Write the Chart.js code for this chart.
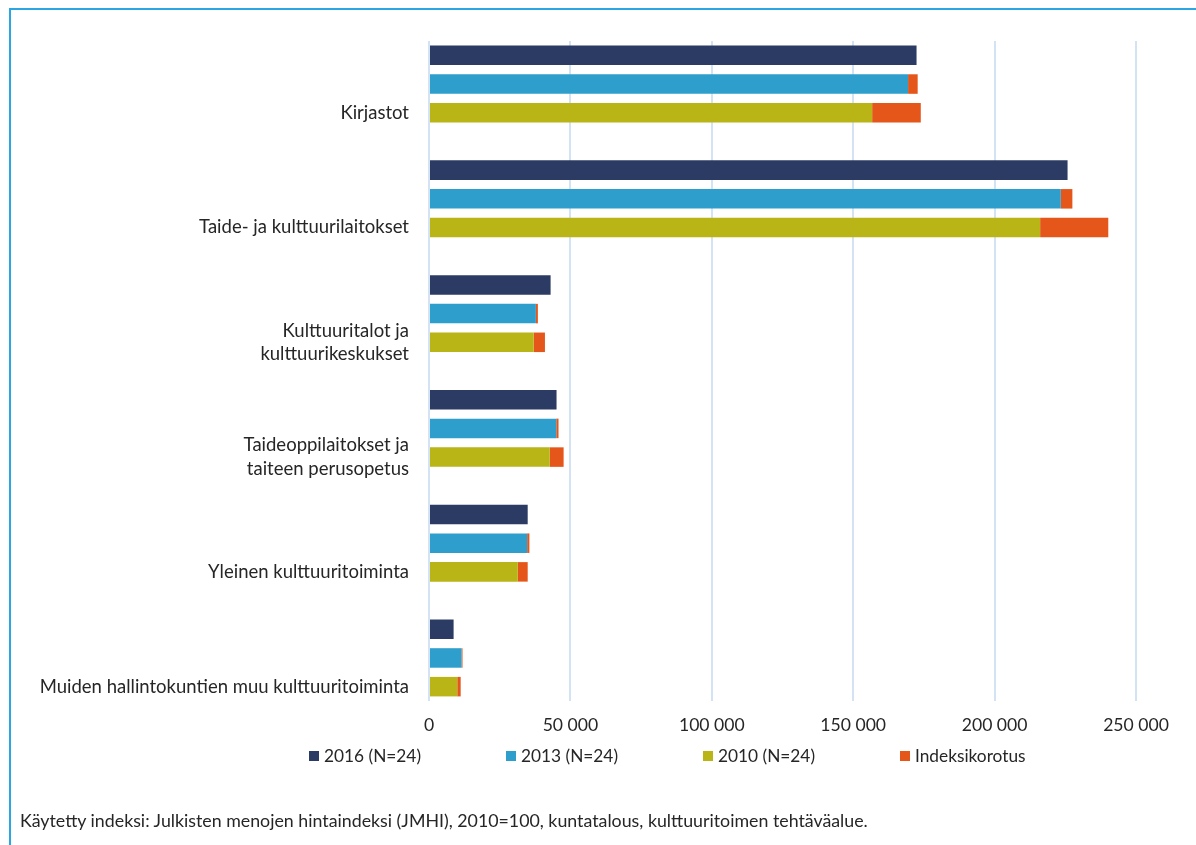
<!DOCTYPE html>
<html lang="fi">
<head>
<meta charset="utf-8">
<title>Kulttuuritoimen menot</title>
<script src="https://cdn.jsdelivr.net/npm/chart.js"></script>
<style>
  html, body { margin: 0; padding: 0; background: #ffffff; }
  #wrap { position: relative; width: 1196px; height: 845px; overflow: hidden; }
  #frame {
    position: absolute; left: 9px; top: 8px; width: 1200px; height: 900px;
    border-top: 2px solid #2aa6e2; border-left: 2px solid #2aa6e2;
  }
  #chart { position: absolute; left: 0; top: 0; }
  #note {
    position: absolute; left: 20px; top: 809px;
    font-family: Lato, "Open Sans", sans-serif; font-size: 17.8px; color: #262626;
  }
</style>
</head>
<body>
<div id="wrap">
  <div id="frame"></div>
  <canvas id="chart" width="1196" height="845"></canvas>
  <div id="note">Käytetty indeksi: Julkisten menojen hintaindeksi (JMHI), 2010=100, kuntatalous, kulttuuritoimen tehtäväalue.</div>
</div>
<script>
// Categories (top to bottom) and values, euros
const categories = [
    'Kirjastot',
    'Taide- ja kulttuurilaitokset',
    ['Kulttuuritalot ja', 'kulttuurikeskukset'],
    ['Taideoppilaitokset ja', 'taiteen perusopetus'],
    'Yleinen kulttuuritoiminta',
    'Muiden hallintokuntien muu kulttuuritoiminta'
];
const values2016 = [172400, 225800, 43000, 45100, 34900, 8700];
const values2013 = [169400, 223400, 37800, 45000, 34700, 11500];
const values2010 = [156700, 216100, 37000, 42700, 31400, 10000];
const index2013 = [3400, 4100, 700, 800, 800, 350];
const index2010 = [17200, 24100, 4000, 4900, 3500, 1200];
const seriesNames = ['2016 (N=24)', '2013 (N=24)', '2010 (N=24)', 'Indeksikorotus'];
const xTicks = [0, 50000, 100000, 150000, 200000, 250000];

const colors = ['#2c3b63', '#2e9fcd', '#b9b516', '#e5561b'];
const fontFamily = 'Lato, "Open Sans", sans-serif';

// Each category gets three rows (2016, 2013, 2010) and a blank spacer row
const rowLabels = [], row2016 = [], row2013 = [], row2010 = [], rowIndex = [];
categories.forEach((cat, i) => {
    const rows = [
        ['', values2016[i], null, null, null],
        ['', null, values2013[i], null, index2013[i]],
        [cat, null, null, values2010[i], index2010[i]]
    ];
    if (i < categories.length - 1) rows.push(['', null, null, null, null]);
    rows.forEach(r => {
        rowLabels.push(r[0]);
        row2016.push(r[1]);
        row2013.push(r[2]);
        row2010.push(r[3]);
        rowIndex.push(r[4]);
    });
});

const fmt = v => String(v).replace(/\B(?=(\d{3})+(?!\d))/g, ' ');

// Legend drawn by hand so the items sit where the original puts them
const legendPlugin = {
    id: 'bottomLegend',
    afterDraw(chart) {
        const ctx = chart.ctx;
        const area = chart.chartArea;
        ctx.save();
        ctx.font = '17.3px ' + fontFamily;
        ctx.textBaseline = 'middle';
        ctx.textAlign = 'left';
        seriesNames.forEach((name, i) => {
            const x = area.left - 120 + i * 197;
            const y = 756;
            ctx.fillStyle = colors[i];
            ctx.fillRect(x, y - 5, 10, 10);
            ctx.fillStyle = '#262626';
            ctx.fillText(name, x + 15, y);
        });
        ctx.restore();
    }
};

const datasets = [row2016, row2013, row2010, rowIndex].map((data, i) => ({
    label: seriesNames[i],
    data: data,
    backgroundColor: colors[i],
    borderWidth: 0,
    categoryPercentage: 1,
    barPercentage: 0.68
}));

new Chart(document.getElementById('chart'), {
    type: 'bar',
    data: { labels: rowLabels, datasets: datasets },
    plugins: [legendPlugin],
    options: {
        responsive: false,
        animation: false,
        indexAxis: 'y',
        layout: { padding: { left: 0, right: 60, top: 41, bottom: 104 } },
        plugins: {
            legend: { display: false },
            tooltip: { enabled: false }
        },
        scales: {
            x: {
                stacked: true,
                min: xTicks[0],
                max: xTicks[xTicks.length - 1],
                afterFit(scale) { scale.height = 40; },
                afterBuildTicks(scale) { scale.ticks = xTicks.map(v => ({ value: v })); },
                grid: { color: '#d3e3f3', lineWidth: 2, drawTicks: false },
                border: { display: false },
                ticks: {
                    padding: 14,
                    color: '#262626',
                    font: { family: fontFamily, size: 17.6 },
                    callback: v => fmt(v)
                }
            },
            y: {
                stacked: true,
                afterFit(scale) { scale.width = 429; },
                grid: { display: false, drawTicks: false },
                border: { display: false },
                ticks: {
                    autoSkip: false,
                    padding: 20,
                    color: '#262626',
                    font: { family: fontFamily, size: 18.5, lineHeight: 1.25 }
                }
            }
        }
    }
});
</script>
</body>
</html>
